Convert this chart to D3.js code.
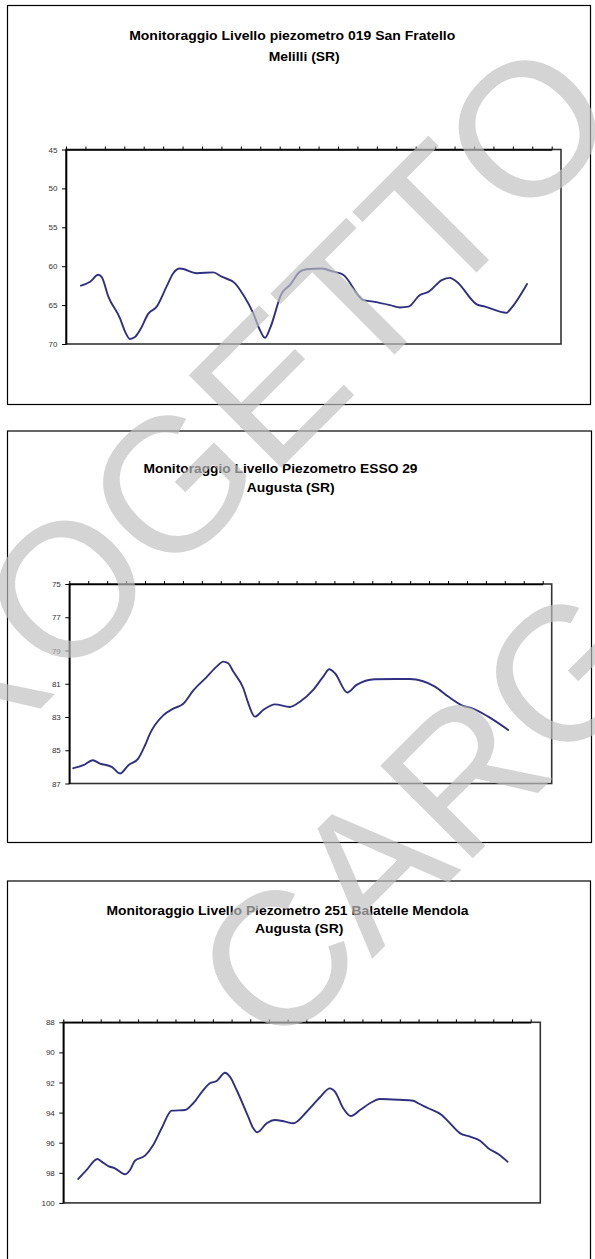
<!DOCTYPE html>
<html><head><meta charset="utf-8">
<script src="https://cdn.jsdelivr.net/npm/d3@7/dist/d3.min.js"></script>
<style>html,body{margin:0;padding:0;background:#fff;}svg{display:block;}</style>
</head><body>
<svg id="c" width="595" height="1259"></svg>
<script>
// ---------- DATA ----------
const titles1 = ["Monitoraggio Livello piezometro 019 San Fratello", "Melilli (SR)"];
const titles2 = ["Monitoraggio Livello Piezometro ESSO 29", "Augusta (SR)"];
const titles3 = ["Monitoraggio Livello Piezometro 251 Balatelle Mendola", "Augusta (SR)"];

const yTicks1 = [45, 50, 55, 60, 65, 70];
const yTicks2 = [75, 77, 79, 81, 83, 85, 87];
const yTicks3 = [88, 90, 92, 94, 96, 98, 100];

// category (period) tick positions along the time axis
const periodTicks = [0,1,2,3,4,5,6,7,8,9,10,11,12,13,14,15,16,17,18,19,20,21,22,23,24,25];

// series 1 : piezometro 019 San Fratello
const periods1 = [0.77,1.24,1.66,1.84,2.18,2.78,3.04,3.29,3.55,3.81,4.24,4.67,5.18,5.52,5.87,6.73,7.58,8.01,8.70,9.13,9.64,9.98,10.24,10.50,11.10,11.53,12.04,12.39,13.16,13.76,14.27,15.30,15.81,16.68,17.19,17.62,18.22,18.65,19.34,19.76,20.11,21.14,21.57,22.68,22.85,23.73];
const levels1  = [62.5,62.0,61.1,61.4,63.9,66.7,68.4,69.35,69.1,68.2,66.1,65.2,62.6,60.9,60.3,60.9,60.8,61.35,62.2,63.7,66.05,68.2,69.2,68.0,63.5,62.4,60.7,60.4,60.3,60.7,61.1,64.35,64.55,65.0,65.3,65.2,63.7,63.3,61.8,61.5,62.0,64.9,65.2,66.0,65.6,62.3];

// series 2 : piezometro ESSO 29
const periods2 = [0.21,0.74,1.24,1.62,2.24,2.68,3.12,3.64,4.00,4.26,4.96,5.49,6.02,6.55,7.25,7.78,8.13,8.39,8.66,9.19,9.45,9.80,10.24,10.86,11.65,12.18,12.88,13.41,13.73,14.03,14.68,15.17,16.14,17.20,17.99,19.31,20.01,20.80,21.25,22.12,23.18];
const levels2  = [86.08,85.9,85.6,85.8,86.0,86.4,85.9,85.5,84.7,84.0,82.9,82.5,82.2,81.4,80.6,79.97,79.67,79.77,80.27,81.27,82.17,82.98,82.58,82.24,82.4,82.08,81.37,80.57,80.13,80.37,81.53,81.07,80.73,80.71,80.71,81.17,81.77,82.33,82.47,82.98,83.78];

// series 3 : piezometro 251 Balatelle Mendola
const periods3 = [0.80,1.25,1.82,2.05,2.41,2.76,3.30,3.57,3.83,4.37,4.81,5.26,5.80,6.51,6.95,7.49,7.84,8.20,8.65,8.91,9.27,9.89,10.16,10.37,10.88,11.32,11.86,12.30,13.02,13.73,14.26,14.53,14.97,15.37,15.87,16.40,16.94,17.99,18.72,18.98,19.52,20.24,20.60,21.23,21.76,22.29,22.73,23.26,23.76];
const levels3  = [98.41,97.81,97.08,97.26,97.55,97.70,98.10,97.81,97.20,96.86,96.15,95.04,93.87,93.83,93.38,92.50,92.05,91.90,91.35,91.61,92.50,94.27,95.04,95.31,94.71,94.49,94.60,94.71,93.94,92.98,92.39,92.61,93.71,94.23,93.83,93.38,93.10,93.15,93.21,93.38,93.71,94.16,94.60,95.38,95.60,95.87,96.37,96.75,97.26];

const watermarkWords = ["PROGETTO", "CARG"];

// ---------- LAYOUT ----------
const charts = [
  { titles: titles1, yTicks: yTicks1, periods: periods1, levels: levels1,
    frame: {x: 7.5, y: 5.5, x2: 590.5, y2: 404.5},
    plot: {x0: 66, xt: 551.7, x1: 561, y0: 149.5, y1: 344},
    titlePos: [{cx: 292.2, y: 40, w: 326}, {cx: 304.2, y: 60.7, w: 71}] },
  { titles: titles2, yTicks: yTicks2, periods: periods2, levels: levels2,
    frame: {x: 7.5, y: 431, x2: 591.5, y2: 842.5},
    plot: {x0: 69.3, xt: 542.7, x1: 551.7, y0: 584, y1: 783.5},
    titlePos: [{cx: 280.5, y: 472.7, w: 274}, {cx: 290.7, y: 492, w: 88}] },
  { titles: titles3, yTicks: yTicks3, periods: periods3, levels: levels3,
    frame: {x: 7.5, y: 881, x2: 590.5, y2: 1275},
    plot: {x0: 63.3, xt: 530.7, x1: 540.3, y0: 1022.3, y1: 1202.9},
    titlePos: [{cx: 287.5, y: 915, w: 362}, {cx: 299.2, y: 932.8, w: 88.5}] }
];

const svg = d3.select("#c");
const FONT = "'Liberation Sans', Arial, Helvetica, sans-serif";
const LINE_COLOR = "#303082";

charts.forEach(c => {
  const g = svg.append("g");
  // outer frame
  g.append("rect")
    .attr("x", c.frame.x).attr("y", c.frame.y)
    .attr("width", c.frame.x2 - c.frame.x).attr("height", c.frame.y2 - c.frame.y)
    .attr("fill", "#fff").attr("stroke", "#000").attr("stroke-width", 1.2);

  // titles
  c.titles.forEach((t, i) => {
    const p = c.titlePos[i];
    g.append("text")
      .attr("x", p.cx).attr("y", p.y)
      .attr("text-anchor", "middle")
      .attr("font-family", FONT).attr("font-weight", "bold").attr("font-size", 12.5)
      .attr("textLength", p.w).attr("lengthAdjust", "spacingAndGlyphs")
      .attr("fill", "#000")
      .text(t);
  });

  const ext = d3.extent(c.yTicks);
  const y = d3.scaleLinear().domain(ext).range([c.plot.y0, c.plot.y1]);
  const x = d3.scaleLinear().domain([periodTicks[0], periodTicks[periodTicks.length - 1]]).range([c.plot.x0, c.plot.xt]);

  // plot box
  g.append("rect")
    .attr("x", c.plot.x0).attr("y", c.plot.y0)
    .attr("width", c.plot.x1 - c.plot.x0).attr("height", c.plot.y1 - c.plot.y0)
    .attr("fill", "none").attr("stroke", "#333").attr("stroke-width", 1.6);

  // top category axis (ticks only)
  const top = g.append("g").attr("transform", `translate(0,${c.plot.y0})`)
    .call(d3.axisTop(x).tickValues(periodTicks).tickSize(3).tickSizeOuter(0).tickFormat(""));
  top.select(".domain").attr("stroke", "#000").attr("stroke-width", 1.6);
  top.selectAll(".tick line").attr("stroke", "#000");

  // left value axis
  const left = g.append("g").attr("transform", `translate(${c.plot.x0},0)`)
    .call(d3.axisLeft(y).tickValues(c.yTicks).tickSize(4).tickSizeOuter(0).tickPadding(4.5));
  left.select(".domain").attr("stroke", "#000").attr("stroke-width", 1.6);
  left.selectAll(".tick line").attr("stroke", "#000");
  left.selectAll(".tick text").attr("font-family", FONT).attr("font-size", 8).attr("fill", "#333");

  // series line
  const data = c.periods.map((p, i) => ({p, v: c.levels[i]}));
  g.append("path").datum(data)
    .attr("fill", "none").attr("stroke", LINE_COLOR).attr("stroke-width", 1.9)
    .attr("stroke-linejoin", "round").attr("stroke-linecap", "round")
    .attr("d", d3.line().x(d => x(d.p)).y(d => y(d.v)).curve(d3.curveMonotoneX));
});

// watermark overlay
const wm = svg.append("g").attr("pointer-events", "none");
const wmPos = [{x: 626, y: 123, anchor: "end"}, {x: 275, y: 1056, anchor: "start"}];
watermarkWords.forEach((w, i) => {
  const p = wmPos[i];
  wm.append("text")
    .attr("transform", `translate(${p.x},${p.y}) rotate(-45)`)
    .attr("text-anchor", p.anchor)
    .attr("font-family", FONT).attr("font-size", 190)
    .attr("fill", "rgb(191,191,191)").attr("fill-opacity", 0.68)
    .text(w);
});
</script>
</body></html>
